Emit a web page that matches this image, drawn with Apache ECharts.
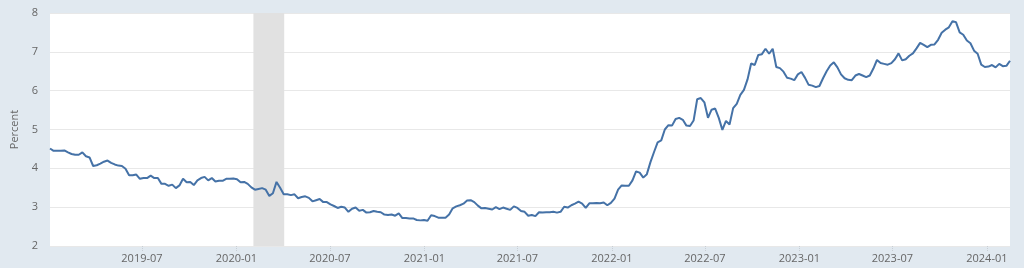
<!DOCTYPE html>
<html>
<head>
<meta charset="utf-8">
<script src="https://cdn.jsdelivr.net/npm/echarts@6/dist/echarts.min.js"></script>
<style>html,body{margin:0;padding:0;background:#e1e9f0}#c{width:1024px;height:268px}</style>
</head>
<body>
<div id="c"></div>
<script>
// 30-year fixed mortgage rate, weekly (Thursdays), percent
const startDate = '2019-01-03';
const v2019 = [4.51,4.45,4.45,4.45,4.46, 4.41,4.37,4.35,4.35, 4.41,4.31,4.28,4.06, 4.08,4.12,4.17,4.20, 4.14,4.10,4.07,4.06,3.99, 3.82,3.82,3.84,3.73, 3.75,3.75,3.81,3.75, 3.75,3.60,3.60,3.55,3.58, 3.49,3.56,3.73,3.64, 3.65,3.57,3.69,3.75,3.78, 3.69,3.75,3.66,3.68, 3.68,3.73,3.73,3.74];
const v2020 = [3.72,3.64,3.65,3.60,3.51, 3.45,3.47,3.49,3.45, 3.29,3.36,3.65,3.50, 3.33,3.33,3.31,3.33,3.23, 3.26,3.28,3.24,3.15, 3.18,3.21,3.13,3.13, 3.07,3.03,2.98,3.01,2.99, 2.88,2.96,2.99,2.91, 2.93,2.86,2.87,2.90, 2.88,2.87,2.81,2.80,2.81, 2.78,2.84,2.72,2.72, 2.71,2.71,2.67,2.66,2.67];
const v2021 = [2.65,2.79,2.77,2.73, 2.73,2.73,2.81,2.97, 3.02,3.05,3.09,3.17, 3.18,3.13,3.04,2.97,2.98, 2.96,2.94,3.00,2.95, 2.99,2.96,2.93,3.02, 2.98,2.90,2.88,2.78,2.80, 2.77,2.87,2.86,2.87, 2.87,2.88,2.86,2.88,3.01, 2.99,3.05,3.09,3.14, 3.09,2.98,3.10,3.10, 3.11,3.10,3.12,3.05,3.11];
const v2022 = [3.22,3.45,3.56,3.55, 3.55,3.69,3.92,3.89, 3.76,3.85,4.16,4.42,4.67, 4.72,5.00,5.11,5.10, 5.27,5.30,5.25,5.10, 5.09,5.23,5.78,5.81,5.70, 5.30,5.51,5.54,5.30, 4.99,5.22,5.13,5.55, 5.66,5.89,6.02,6.29,6.70, 6.66,6.92,6.94,7.08, 6.95,7.08,6.61,6.58, 6.49,6.33,6.31,6.27,6.42];
const v2023 = [6.48,6.33,6.15,6.13, 6.09,6.12,6.32,6.50, 6.65,6.73,6.60,6.42,6.32, 6.28,6.27,6.39,6.43, 6.39,6.35,6.39,6.57, 6.79,6.71,6.69,6.67,6.71, 6.81,6.96,6.78,6.81, 6.90,6.96,7.09,7.23,7.18, 7.12,7.18,7.19,7.31, 7.49,7.57,7.63,7.79, 7.76,7.50,7.44,7.29,7.22, 7.03,6.95,6.67,6.61];
const v2024 = [6.62,6.66,6.60,6.69,6.63,6.64,6.77];
const xTickLabels = ['2019-07','2020-01','2020-07','2021-01','2021-07','2022-01','2022-07','2023-01','2023-07','2024-01'];
const recession = ['2020-02-03','2020-04-03'];
const yTicks = [2,3,4,5,6,7,8];

const values = [].concat(v2019, v2020, v2021, v2022, v2023, v2024);
const t0 = Date.parse(startDate + 'T00:00:00Z');
const WEEK = 7 * 86400000;
const seriesData = values.map((v, i) => [t0 + i * WEEK, v]);
const tEnd = seriesData[seriesData.length - 1][0];
const tickTimes = xTickLabels.map(s => Date.parse(s + '-01T00:00:00Z'));
const labelOf = {};
tickTimes.forEach((t, i) => { labelOf[t] = xTickLabels[i]; });

const chart = echarts.init(document.getElementById('c'));
const font = '"Open Sans", "Noto Sans", sans-serif';
chart.setOption({
  backgroundColor: '#e1e9f0',
  animation: false,
  grid: { left: 50, right: 14, top: 13, bottom: 22, show: true, backgroundColor: '#ffffff', borderWidth: 0, containLabel: false, outerBoundsMode: 'none' },
  xAxis: {
    type: 'value', min: t0, max: tEnd, scale: true,
    axisLine: { show: false },
    axisTick: { show: true, customValues: tickTimes, length: 5, lineStyle: { color: '#c8ced4', type: 'dotted' } },
    axisLabel: {
      customValues: tickTimes, color: '#666', fontSize: 11, fontFamily: font, margin: 7,
      formatter: v => labelOf[v] || ''
    },
    splitLine: { show: false }
  },
  yAxis: {
    type: 'value', min: yTicks[0], max: yTicks[yTicks.length - 1], interval: 1,
    name: 'Percent', nameLocation: 'middle', nameGap: 29,
    nameTextStyle: { color: '#666', fontSize: 11, fontFamily: font },
    axisLine: { show: false }, axisTick: { show: false },
    axisLabel: { color: '#666', fontSize: 11, fontFamily: font, margin: 12 },
    splitLine: { lineStyle: { color: '#e8e8e8', width: 1 } }
  },
  series: [
    {
      type: 'line', data: [], silent: true, z: 1,
      markArea: { silent: true, itemStyle: { color: '#e1e1e1' },
        data: [[{ xAxis: Date.parse(recession[0] + 'T00:00:00Z') }, { xAxis: Date.parse(recession[1] + 'T00:00:00Z') }]] }
    },
    {
      type: 'line', data: seriesData, showSymbol: false, z: 3,
      lineStyle: { color: '#4572a7', width: 2 }, itemStyle: { color: '#4572a7' }
    }
  ]
});
</script>
</body>
</html>
